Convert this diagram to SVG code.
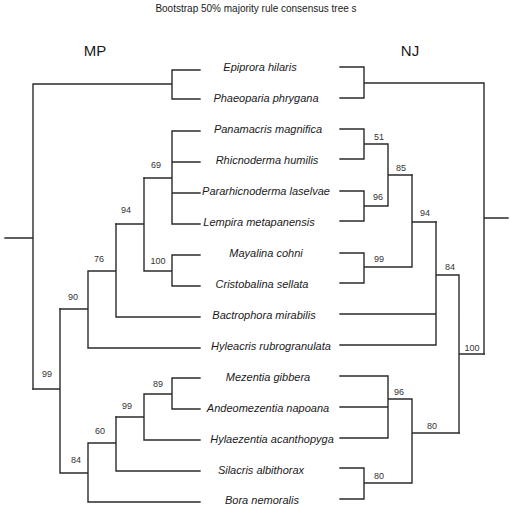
<svg xmlns="http://www.w3.org/2000/svg" width="510" height="507" viewBox="0 0 510 507">
<style>
.bg{fill:#ffffff}
.ln{fill:none;stroke:#2b2b2b;stroke-width:1.4;stroke-linecap:square}
.tx{font-family:"Liberation Sans",Arial,sans-serif;font-style:italic;font-size:11px;fill:#1a1a1a;text-anchor:middle}
.bs{font-family:"Liberation Sans",Arial,sans-serif;font-size:9px;fill:#333333;text-anchor:middle}
.hd{font-family:"Liberation Sans",Arial,sans-serif;font-size:15px;fill:#1a1a1a;text-anchor:middle}
.tt{font-family:"Liberation Sans",Arial,sans-serif;font-size:10px;fill:#1a1a1a;text-anchor:middle}
</style>
<rect class="bg" x="0" y="0" width="510" height="507"/>
<text class="tt" x="256" y="12">Bootstrap 50% majority rule consensus tree s</text>
<text class="hd" x="95" y="56">MP</text>
<text class="hd" x="410" y="56">NJ</text>

<g id="connectors">
  <!-- MP tree (left) -->
  <path class="ln" d="M5,238H33M33,84V389M33,84H172M172,70V99M172,70H200M172,99H200"/>
  <path class="ln" d="M144,178H172M172,131V224M172,131H200M172,162H200M172,193H200M172,224H200"/>
  <path class="ln" d="M144,271H172M172,255V286M172,255H200M172,286H200M144,178V271M116,224H144"/>
  <path class="ln" d="M116,224V317M116,317H200M88,271H116M88,271V348M88,348H200M60,309H88"/>
  <path class="ln" d="M144,394H172M172,378V409M172,378H200M172,409H200M144,394V440M144,440H200M116,417H144"/>
  <path class="ln" d="M116,417V471M116,471H200M88,443H116M88,443V502M88,502H200M60,473H88M60,309V473M33,389H60"/>
  <!-- NJ tree (right) -->
  <path class="ln" d="M340,67H364M340,98H364M364,67V98M364,83H484M484,83V354M484,218H508"/>
  <path class="ln" d="M340,129H364M340,159H364M364,129V159M364,144H388M340,191H364M340,221H364M364,191V221M364,206H388M388,144V206M388,175H412"/>
  <path class="ln" d="M340,253H364M340,283H364M364,253V283M364,267H412M412,175V267M412,222H436"/>
  <path class="ln" d="M340,314H436M340,345H436M436,222V345M436,275H459M459,275V433M459,354H484"/>
  <path class="ln" d="M340,376H388M340,407H388M340,438H388M388,376V438M388,399H412M340,468H364M340,499H364M364,468V499M364,483H412M412,399V483M412,433H459"/>
</g>

<g id="taxa">
  <g id="t-epiprora"><text class="tx" x="260" y="71">Epiprora hilaris</text></g>
  <g id="t-phaeoparia"><text class="tx" x="266" y="102">Phaeoparia phrygana</text></g>
  <g id="t-panamacris"><text class="tx" x="268" y="133">Panamacris magnifica</text></g>
  <g id="t-rhicnoderma"><text class="tx" x="267" y="164">Rhicnoderma humilis</text></g>
  <g id="t-pararhicnoderma"><text class="tx" x="266" y="195">Pararhicnoderma laselvae</text></g>
  <g id="t-lempira"><text class="tx" x="259" y="226">Lempira metapanensis</text></g>
  <g id="t-mayalina"><text class="tx" x="266" y="257">Mayalina cohni</text></g>
  <g id="t-cristobalina"><text class="tx" x="262" y="288">Cristobalina sellata</text></g>
  <g id="t-bactrophora"><text class="tx" x="264" y="319">Bactrophora mirabilis</text></g>
  <g id="t-hyleacris"><text class="tx" x="271" y="350">Hyleacris rubrogranulata</text></g>
  <g id="t-mezentia"><text class="tx" x="268" y="381">Mezentia gibbera</text></g>
  <g id="t-andeomezentia"><text class="tx" x="268" y="412">Andeomezentia napoana</text></g>
  <g id="t-hylaezentia"><text class="tx" x="272" y="443">Hylaezentia acanthopyga</text></g>
  <g id="t-silacris"><text class="tx" x="261" y="474">Silacris albithorax</text></g>
  <g id="t-bora"><text class="tx" x="262" y="504">Bora nemoralis</text></g>
</g>

<g id="mp-support">
  <g id="mp-69"><text class="bs" x="156" y="168">69</text></g>
  <g id="mp-94"><text class="bs" x="126" y="213">94</text></g>
  <g id="mp-100"><text class="bs" x="158" y="264">100</text></g>
  <g id="mp-76"><text class="bs" x="99" y="262">76</text></g>
  <g id="mp-90"><text class="bs" x="73" y="300">90</text></g>
  <g id="mp-99a"><text class="bs" x="47" y="377">99</text></g>
  <g id="mp-89"><text class="bs" x="158" y="387">89</text></g>
  <g id="mp-99b"><text class="bs" x="127" y="409">99</text></g>
  <g id="mp-60"><text class="bs" x="100" y="434">60</text></g>
  <g id="mp-84"><text class="bs" x="76" y="463">84</text></g>
</g>

<g id="nj-support">
  <g id="nj-51"><text class="bs" x="379" y="140">51</text></g>
  <g id="nj-96a"><text class="bs" x="378" y="200">96</text></g>
  <g id="nj-85"><text class="bs" x="401" y="171">85</text></g>
  <g id="nj-99"><text class="bs" x="379" y="262">99</text></g>
  <g id="nj-94"><text class="bs" x="425" y="216">94</text></g>
  <g id="nj-84"><text class="bs" x="450" y="270">84</text></g>
  <g id="nj-100"><text class="bs" x="472" y="351">100</text></g>
  <g id="nj-96b"><text class="bs" x="399" y="395">96</text></g>
  <g id="nj-80a"><text class="bs" x="432" y="429">80</text></g>
  <g id="nj-80b"><text class="bs" x="379" y="479">80</text></g>
</g>
</svg>
